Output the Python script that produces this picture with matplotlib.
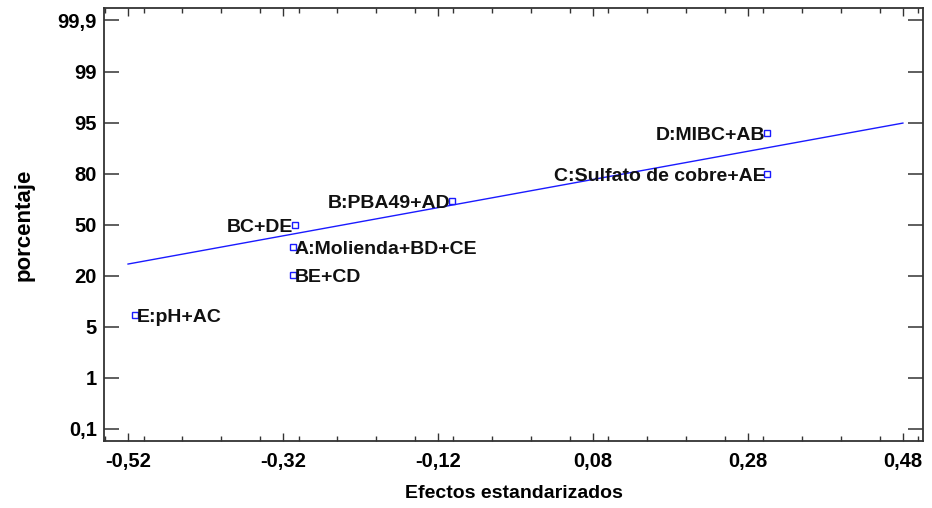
import numpy as np
import matplotlib
matplotlib.use('Agg')
from matplotlib import pyplot as plt
from matplotlib.ticker import MultipleLocator

plt.rcParams['font.family'] = ['Liberation Sans', 'DejaVu Sans']

# efectos estandarizados y posicion en la escala de porcentaje (0 = 0,1 ... 8 = 99,9)
efectos = ['E:pH+AC', 'BE+CD', 'A:Molienda+BD+CE', 'BC+DE',
           'B:PBA49+AD', 'C:Sulfato de cobre+AE', 'D:MIBC+AB']
valores = [-0.511, -0.307, -0.307, -0.305, -0.102, 0.3045, 0.3045]
posicion = [2.23, 3.01, 3.56, 3.99, 4.46, 4.99, 5.79]
lado = ['right', 'right', 'right', 'left', 'left', 'left', 'left']

# recta de referencia
recta_x = [-0.52, 0.48]
recta_y = [3.23, 5.99]

y_etiquetas = ['0,1', '1', '5', '20', '50', '80', '95', '99', '99,9']
x_ticks = [-0.52, -0.32, -0.12, 0.08, 0.28, 0.48]
x_etiquetas = ['-0,52', '-0,32', '-0,12', '0,08', '0,28', '0,48']

fig = plt.figure(figsize=(9.32, 5.08), dpi=100)
ax = fig.add_axes([0.1116, 0.1319, 0.8788, 0.8515])

azul = '#1a1aff'
ax.plot(recta_x, recta_y, color=azul, lw=1.0)
ax.plot(valores, posicion, ls='none', marker='s', ms=5, mfc='white',
        mec=azul, mew=1.0)

for nombre, x, y, l in zip(efectos, valores, posicion, lado):
    if l == 'right':
        ax.annotate(nombre, (x, y), xytext=(1, 0), textcoords='offset points',
                    ha='left', va='center_baseline', fontsize=14,
                    fontweight='bold', color='#111111')
    else:
        ax.annotate(nombre, (x, y), xytext=(-1, 0), textcoords='offset points',
                    ha='right', va='center_baseline', fontsize=14,
                    fontweight='bold', color='#111111')

ax.set_xlim(-0.551, 0.506)
ax.set_ylim(-0.235, 8.235)

ax.set_yticks(range(len(y_etiquetas)))
ax.set_yticklabels(y_etiquetas)
ax.set_xticks(x_ticks)
ax.set_xticklabels(x_etiquetas)
ax.xaxis.set_minor_locator(MultipleLocator(0.05))

ax.tick_params(axis='y', which='major', direction='in', length=11, width=1.1,
               left=True, right=True, pad=5, labelsize=14.5, color='#333333')
ax.tick_params(axis='x', which='major', direction='in', length=6, width=1.0,
               bottom=True, top=True, pad=8, labelsize=14.5, color='#333333')
ax.tick_params(axis='x', which='minor', direction='in', length=3.5, width=1.0,
               bottom=True, top=True, color='#333333')
for lab in ax.get_xticklabels() + ax.get_yticklabels():
    lab.set_fontweight('bold')

for s in ax.spines.values():
    s.set_linewidth(1.3)
    s.set_color('#333333')

ax.set_xlabel('Efectos estandarizados', fontsize=14, fontweight='bold', labelpad=10)
ax.set_ylabel('porcentaje', fontsize=16, fontweight='bold', labelpad=17)

fig.savefig('out.png', dpi=100)
